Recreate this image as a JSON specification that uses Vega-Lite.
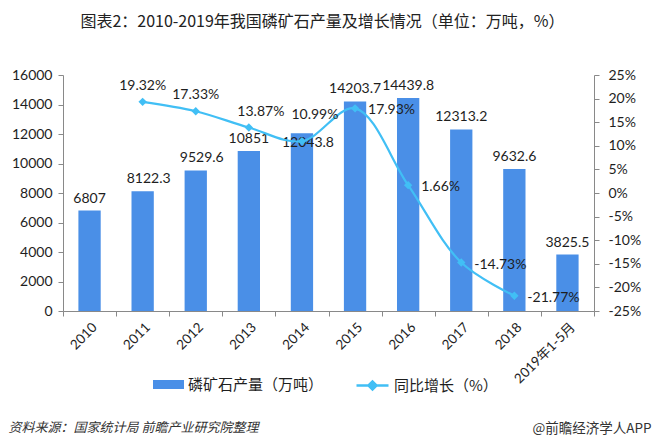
{
  "$schema": "https://vega.github.io/schema/vega-lite/v6.json",
  "width": 531,
  "height": 236,
  "autosize": "none",
  "padding": {"left": 63, "top": 75, "right": 58, "bottom": 135},
  "background": "white",
  "config": {
    "view": {"stroke": null},
    "axis": {"grid": false},
    "text": {"font": "Lato, Noto Sans CJK SC", "fontSize": 14, "color": "#1e1e1e"}
  },
  "title": {
    "text": "图表2：2010-2019年我国磷矿石产量及增长情况（单位：万吨，%）",
    "font": "Noto Sans CJK SC",
    "fontSize": 16,
    "fontWeight": "normal",
    "color": "#222222",
    "anchor": "middle",
    "dx": -6,
    "offset": 38
  },
  "data": {
    "values": [
      {"year": "2010", "output": 6807, "growth": null},
      {"year": "2011", "output": 8122.3, "growth": 19.32},
      {"year": "2012", "output": 9529.6, "growth": 17.33},
      {"year": "2013", "output": 10851, "growth": 13.87},
      {"year": "2014", "output": 12043.8, "growth": 10.99},
      {"year": "2015", "output": 14203.7, "growth": 17.93},
      {"year": "2016", "output": 14439.8, "growth": 1.66},
      {"year": "2017", "output": 12313.2, "growth": -14.73},
      {"year": "2018", "output": 9632.6, "growth": -21.77},
      {"year": "2019年1-5月", "output": 3825.5, "growth": null}
    ]
  },
  "encoding": {
    "x": {
      "field": "year",
      "type": "nominal",
      "sort": null,
      "scale": {
        "domain": ["2010", "2011", "2012", "2013", "2014", "2015", "2016", "2017", "2018", "2019年1-5月"],
        "paddingInner": 0,
        "paddingOuter": 0
      },
      "axis": {
        "title": "资料来源：国家统计局 前瞻产业研究院整理",
        "titleX": -55,
        "titleY": 116,
        "titleAlign": "left",
        "titleAnchor": null,
        "titleBaseline": "middle",
        "titleFont": "Noto Sans CJK SC",
        "titleFontSize": 13,
        "titleFontStyle": "italic",
        "titleFontWeight": "normal",
        "titleColor": "#333333",
        "labelAngle": -45,
        "labelFont": "Lato, Noto Sans CJK SC",
        "labelFontSize": 13.5,
        "labelColor": "#1e1e1e",
        "labelPadding": 4,
        "domainColor": "#898989",
        "tickColor": "#898989",
        "tickSize": 5,
        "tickBand": "extent"
      }
    }
  },
  "layer": [
    {
      "encoding": {
        "y": {
          "field": "output",
          "type": "quantitative",
          "scale": {"domain": [0, 16000], "nice": false},
          "axis": {
            "title": null,
            "values": [0, 2000, 4000, 6000, 8000, 10000, 12000, 14000, 16000],
            "format": "d",
            "labelFont": "Lato",
            "labelFontSize": 14,
            "labelColor": "#1e1e1e",
            "labelPadding": 6,
            "domainColor": "#898989",
            "tickColor": "#898989",
            "tickSize": 5
          }
        }
      },
      "layer": [
        {
          "mark": {"type": "bar", "width": {"band": 0.42}},
          "encoding": {
            "color": {
              "datum": "磷矿石产量（万吨）",
              "type": "nominal",
              "scale": {"range": ["#4a8fe7"]},
              "legend": {
                "orient": "none",
                "legendX": 89,
                "legendY": 293,
                "title": null,
                "padding": 0,
                "symbolType": "M-1,-0.29H1V0.29H-1Z",
                "symbolSize": 961,
                "labelFont": "Noto Sans CJK SC",
                "labelFontSize": 15,
                "labelColor": "#1e1e1e",
                "labelOffset": 3
              }
            }
          }
        },
        {
          "transform": [{"filter": {"field": "year", "oneOf": ["2010", "2013", "2015", "2016", "2017", "2018", "2019年1-5月"]}}],
          "mark": {"type": "text", "baseline": "alphabetic", "dy": -8},
          "encoding": {"text": {"field": "output", "type": "nominal"}}
        },
        {
          "transform": [{"filter": {"field": "year", "oneOf": ["2011", "2012"]}}],
          "mark": {"type": "text", "baseline": "alphabetic", "dy": -8, "dx": 6},
          "encoding": {"text": {"field": "output", "type": "nominal"}}
        },
        {
          "transform": [{"filter": {"field": "year", "equal": "2014"}}],
          "mark": {"type": "text", "baseline": "alphabetic", "dy": 14, "dx": 6},
          "encoding": {"text": {"field": "output", "type": "nominal"}}
        }
      ]
    },
    {
      "transform": [
        {"filter": "isValid(datum.growth)"},
        {"calculate": "datum.growth + '%'", "as": "label"}
      ],
      "encoding": {
        "y": {
          "field": "growth",
          "type": "quantitative",
          "scale": {"domain": [-25, 25], "nice": false},
          "axis": {
            "orient": "right",
            "values": [-25, -20, -15, -10, -5, 0, 5, 10, 15, 20, 25],
            "labelExpr": "datum.value + '%'",
            "labelFont": "Lato",
            "labelFontSize": 14,
            "labelColor": "#1e1e1e",
            "labelPadding": 9,
            "domainColor": "#898989",
            "tickColor": "#898989",
            "tickSize": 5,
            "title": "@前瞻经济学人APP",
            "titleAngle": 0,
            "titleX": 57,
            "titleY": 353,
            "titleAlign": "right",
            "titleAnchor": null,
            "titleBaseline": "middle",
            "titleFont": "Noto Sans CJK SC",
            "titleFontSize": 13.5,
            "titleFontWeight": "normal",
            "titleColor": "#333333"
          }
        }
      },
      "layer": [
        {
          "mark": {"type": "line", "interpolate": "catmull-rom", "strokeWidth": 2.2},
          "encoding": {
            "color": {
              "datum": "同比增长（%）",
              "type": "nominal",
              "scale": {"range": ["#41bff5"]},
              "legend": {
                "orient": "none",
                "legendX": 292,
                "legendY": 293,
                "title": null,
                "padding": 0,
                "symbolType": "M-1,0H1M-0.25,0L0,-0.25L0.25,0L0,0.25Z",
                "symbolSize": 1024,
                "symbolStrokeWidth": 2.5,
                "symbolFillColor": "#41bff5",
                "labelFont": "Noto Sans CJK SC",
                "labelFontSize": 15,
                "labelColor": "#1e1e1e",
                "labelOffset": 4
              }
            }
          }
        },
        {
          "mark": {"type": "point", "shape": "diamond", "filled": true, "size": 70, "color": "#41bff5", "opacity": 1}
        },
        {
          "transform": [{"filter": {"field": "year", "oneOf": ["2011", "2012"]}}],
          "mark": {"type": "text", "baseline": "middle", "dy": -16},
          "encoding": {"text": {"field": "label", "type": "nominal"}}
        },
        {
          "transform": [{"filter": {"field": "year", "equal": "2013"}}],
          "mark": {"type": "text", "baseline": "middle", "dy": -16, "dx": 12},
          "encoding": {"text": {"field": "label", "type": "nominal"}}
        },
        {
          "transform": [{"filter": {"field": "year", "equal": "2014"}}],
          "mark": {"type": "text", "baseline": "middle", "dy": -26, "dx": 13},
          "encoding": {"text": {"field": "label", "type": "nominal"}}
        },
        {
          "transform": [{"filter": {"field": "year", "oneOf": ["2015", "2016", "2017", "2018"]}}],
          "mark": {"type": "text", "baseline": "middle", "align": "left", "dx": 13, "dy": 2},
          "encoding": {"text": {"field": "label", "type": "nominal"}}
        }
      ]
    }
  ],
  "resolve": {
    "scale": {"y": "independent", "color": "independent"},
    "axis": {"y": "independent"},
    "legend": {"color": "independent"}
  }
}
